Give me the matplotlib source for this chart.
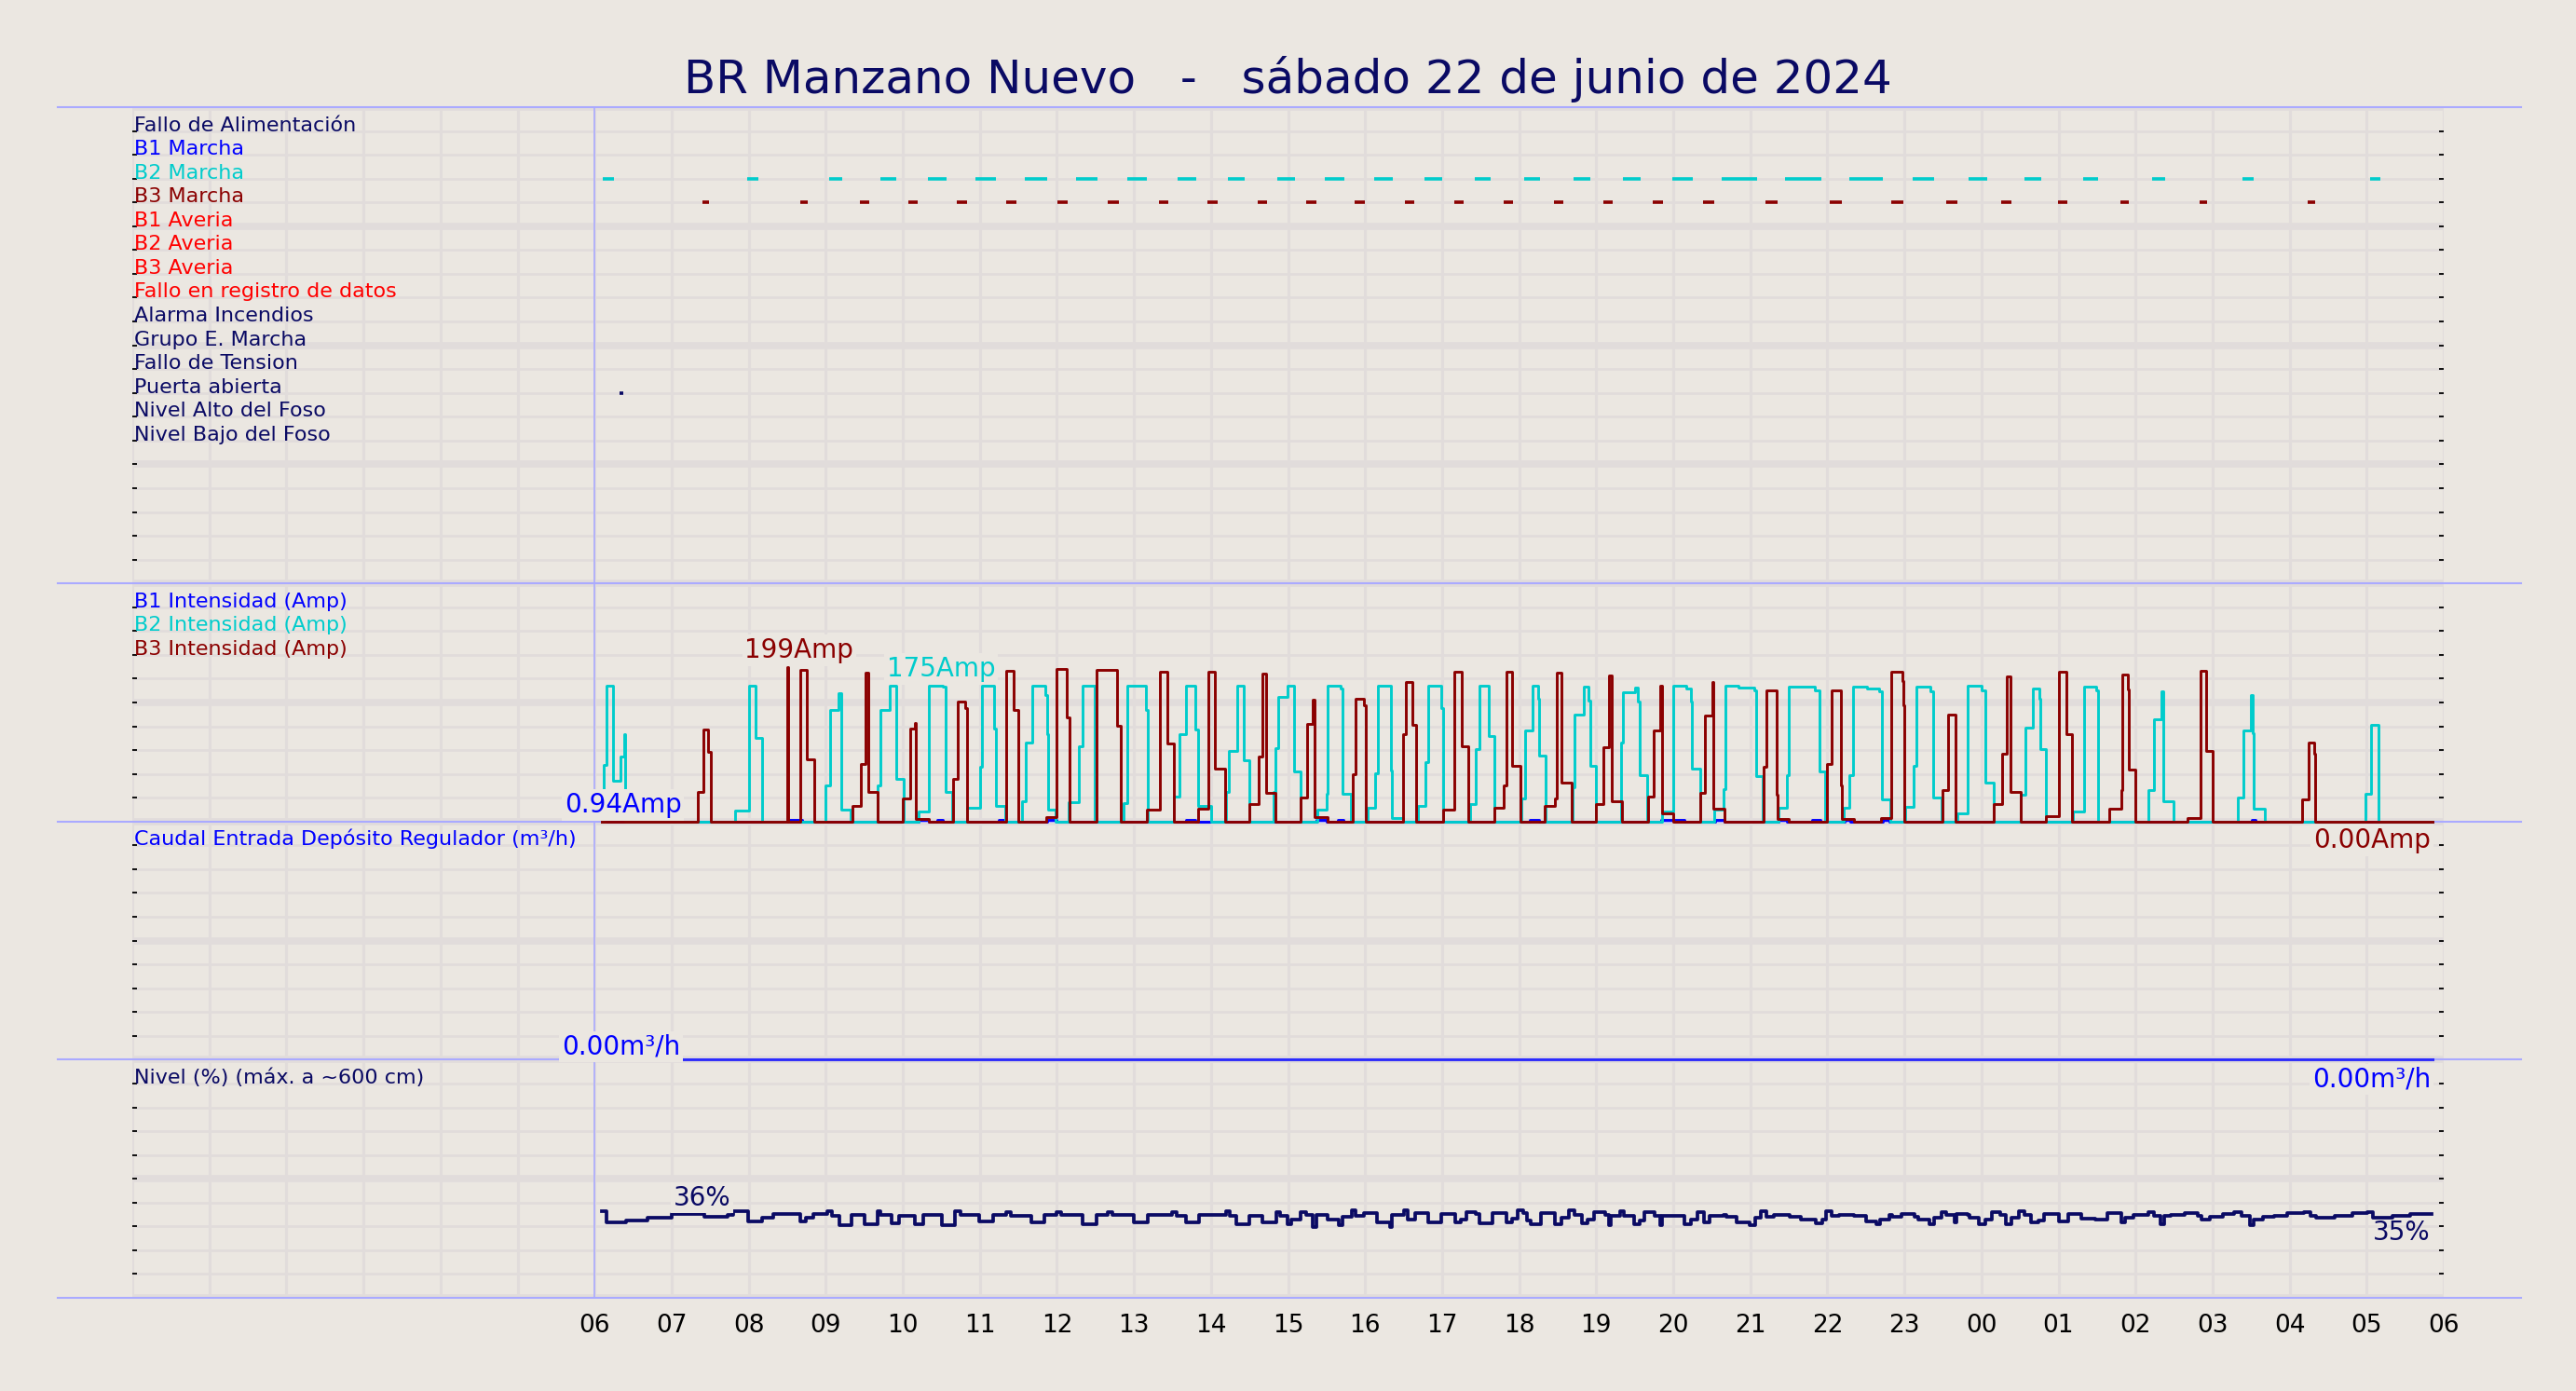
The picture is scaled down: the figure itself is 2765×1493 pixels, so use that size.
import matplotlib
matplotlib.use("Agg")
import matplotlib.pyplot as plt
from matplotlib.transforms import blended_transform_factory

BG = '#ebe7e1'
GRID = '#e1dcdb'
NAVY = '#0a0a64'
BLUE = '#0000ff'
CYAN = '#00cccc'
DARKRED = '#8b0000'
RED = '#ff0000'
EDGE = '#aaaaff'

title = 'BR Manzano Nuevo   -   sábado 22 de junio de 2024'

# digital signals, one row each (top to bottom)
signal_labels = ['Fallo de Alimentación', 'B1 Marcha', 'B2 Marcha', 'B3 Marcha',
                 'B1 Averia', 'B2 Averia', 'B3 Averia', 'Fallo en registro de datos',
                 'Alarma Incendios', 'Grupo E. Marcha', 'Fallo de Tension',
                 'Puerta abierta', 'Nivel Alto del Foso', 'Nivel Bajo del Foso']
signal_colors = [NAVY, BLUE, CYAN, DARKRED, RED, RED, RED, RED,
                 NAVY, NAVY, NAVY, NAVY, NAVY, NAVY]

# time in hours from 00:00 of the day (24+ = next day)
b2_on = [6.106, 7.98, 9.04, 9.71, 10.33, 10.94, 11.58, 12.25, 12.91, 13.57, 14.22,
         14.86, 15.48, 16.12, 16.77, 17.42, 18.07, 18.71, 19.35, 19.99, 20.63, 21.45,
         22.29, 23.11, 23.83, 24.56, 25.32, 26.22, 27.39, 29.04]
b2_off = [6.25, 8.13, 9.21, 9.92, 10.57, 11.21, 11.87, 12.53, 13.17, 13.81, 14.44,
          15.09, 15.73, 16.36, 17.0, 17.63, 18.27, 18.92, 19.58, 20.25, 21.09, 21.92,
          22.72, 23.39, 24.08, 24.78, 25.51, 26.38, 27.53, 29.18]
b3_on = [7.40, 8.67, 9.44, 10.07, 10.70, 11.34, 12.01, 12.66, 13.33, 13.95, 14.61,
         15.24, 15.86, 16.52, 17.16, 17.80, 18.45, 19.09, 19.73, 20.39, 21.20, 22.03,
         22.83, 23.54, 24.26, 24.99, 25.80, 26.83, 28.23]
b3_off = [7.48, 8.77, 9.56, 10.19, 10.83, 11.48, 12.14, 12.81, 13.45, 14.09, 14.73,
          15.37, 16.0, 16.64, 17.28, 17.92, 18.57, 19.21, 19.87, 20.53, 21.35, 22.19,
          22.99, 23.69, 24.39, 25.12, 25.91, 26.93, 28.33]
puerta_on = [6.32]
puerta_off = [6.37]

# pump currents (Amp)
b1_t = [6.10, 6.15, 8.53, 8.69, 10.21, 10.34, 10.45, 10.52, 11.25, 11.33, 11.87, 12.0,
        13.67, 13.80, 15.37, 15.50, 15.65, 15.72, 18.14, 18.26, 19.84, 20.15, 20.55,
        20.66, 21.37, 21.47, 21.80, 21.91, 22.22, 22.30, 22.72, 22.81, 27.51, 27.56, 29.85]
b1_a = [0.94, 0, 2, 0, 2, 0, 2, 0, 2, 0, 2, 0,
        2, 0, 2, 0, 2, 0, 2, 0, 2, 0, 2,
        0, 2, 0, 2, 0, 2, 0, 2, 0, 2, 0, 0]

b2_t = [6.10, 6.12, 6.16, 6.24, 6.34, 6.38, 6.40,
        7.825, 8.01, 8.087, 8.177,
        9.00, 9.06, 9.16, 9.20, 9.325,
        9.671, 9.713, 9.828, 9.912, 10.007,
        10.21, 10.342, 10.515, 10.552, 10.646,
        10.84, 11.0, 11.024, 11.181, 11.207, 11.328,
        11.548, 11.601, 11.68, 11.847, 11.873, 11.89, 11.984,
        12.15, 12.282, 12.335, 12.49,
        12.87, 12.92, 13.15, 13.18,
        13.515, 13.593, 13.672, 13.793, 13.83, 14.0,
        14.20, 14.238, 14.343, 14.422, 14.50,
        14.815, 14.841, 14.867, 14.998, 15.077, 15.166,
        15.376, 15.497, 15.512, 15.68, 15.706, 15.811,
        16.037, 16.126, 16.163, 16.336, 16.351, 16.493,
        16.687, 16.781, 16.823, 16.991, 17.017,
        17.358, 17.437, 17.489, 17.61, 17.673,
        18.03, 18.082, 18.171, 18.25, 18.26, 18.344,
        18.695, 18.722, 18.837, 18.905, 18.921, 18.994,
        19.325, 19.351, 19.508, 19.54, 19.56, 19.665,
        19.849, 19.996, 20.164, 20.232, 20.242, 20.347,
        20.531, 20.652, 20.673, 20.845, 21.055, 21.081, 21.16,
        21.37, 21.475, 21.501, 21.842, 21.894, 21.973,
        22.21, 22.288, 22.33, 22.513, 22.671, 22.707, 22.812,
        23.012, 23.117, 23.158, 23.337, 23.368, 23.484,
        23.683, 23.824, 24.008, 24.05, 24.165,
        24.506, 24.574, 24.663, 24.758, 24.768, 24.836,
        25.188, 25.33, 25.487, 25.508,
        26.168, 26.236, 26.341, 26.357, 26.499,
        27.322, 27.406, 27.495, 27.521, 27.532, 27.679,
        28.99, 29.053, 29.158, 29.85]
b2_a = [0, 73, 175, 53, 84, 112, 0,
        14, 175, 108, 0,
        46, 144, 165, 15, 0,
        46, 144, 175, 55, 0,
        13, 175, 173, 38, 0,
        18, 70, 175, 120, 20, 0,
        26, 102, 175, 162, 112, 15, 0,
        25, 97, 174, 0,
        24, 174, 144, 0,
        32, 112, 174, 118, 20, 0,
        38, 91, 174, 79, 0,
        38, 94, 160, 174, 65, 0,
        15, 36, 174, 171, 36, 0,
        18, 62, 174, 66, 5, 0,
        20, 76, 174, 146, 0,
        23, 93, 174, 110, 0,
        30, 117, 174, 158, 85, 0,
        44, 138, 173, 155, 72, 0,
        102, 166, 172, 154, 60, 0,
        13, 174, 171, 154, 68, 0,
        15, 42, 174, 172, 169, 59, 0,
        18, 60, 173, 169, 65, 0,
        18, 60, 173, 171, 167, 29, 0,
        19, 72, 173, 167, 31, 0,
        10, 174, 169, 50, 0,
        34, 121, 171, 158, 93, 0,
        13, 173, 168, 0,
        40, 132, 167, 26, 0,
        31, 117, 163, 113, 17, 0,
        36, 124, 0, 0]

b3_t = [6.10,
        7.343, 7.416, 7.469, 7.51,
        8.496, 8.517, 8.675, 8.759, 8.848,
        9.346, 9.461, 9.514, 9.55, 9.671,
        10.0, 10.091, 10.159, 10.175, 10.342,
        10.657, 10.709, 10.814, 10.84,
        11.339, 11.444, 11.496,
        11.863, 11.994, 12.125, 12.167,
        12.519, 12.781, 12.833,
        13.174, 13.342, 13.436, 13.515,
        13.83, 13.971, 14.054, 14.186,
        14.50, 14.621, 14.673, 14.71, 14.841,
        15.166, 15.25, 15.323, 15.344, 15.512,
        15.837, 15.879, 15.984, 16.005,
        16.493, 16.535, 16.614, 16.666,
        17.017, 17.164, 17.253, 17.342,
        17.673, 17.804, 17.83, 17.909, 18.014,
        18.328, 18.46, 18.491, 18.554, 18.68,
        18.994, 19.089, 19.167, 19.204, 19.34,
        19.668, 19.746, 19.835, 19.856, 20.006,
        20.347, 20.41, 20.504, 20.525, 20.662,
        21.176, 21.213, 21.339, 21.354, 21.501,
        22.0, 22.052, 22.172, 22.193, 22.34,
        22.697, 22.828, 22.97, 22.985, 23.001,
        23.494, 23.562, 23.667,
        24.165, 24.27, 24.333, 24.375, 24.506,
        24.836, 25.004, 25.099, 25.172,
        25.66, 25.817, 25.833, 25.896, 25.912, 26.0,
        26.672, 26.84, 26.918, 27.007,
        28.161, 28.245, 28.318, 28.334,
        29.85]
b3_a = [0,
        38, 118, 90, 0,
        199, 0, 195, 80, 0,
        20, 74, 191, 38, 0,
        30, 120, 127, 3, 0,
        55, 154, 146, 0,
        194, 144, 0,
        6, 196, 134, 0,
        195, 123, 0,
        15, 193, 100, 0,
        17, 193, 68, 0,
        23, 83, 190, 37, 0,
        31, 126, 156, 6, 0,
        61, 158, 150, 0,
        112, 179, 124, 0,
        15, 193, 97, 0,
        18, 46, 193, 72, 0,
        20, 30, 191, 50, 0,
        23, 95, 188, 26, 0,
        32, 117, 175, 11, 0,
        37, 136, 179, 17, 0,
        70, 169, 34, 3, 0,
        74, 169, 46, 3, 0,
        5, 193, 181, 150, 0,
        40, 137, 0,
        23, 87, 186, 38, 0,
        7, 193, 112, 0,
        17, 40, 189, 170, 67, 0,
        5, 194, 91, 0,
        29, 102, 87, 0,
        0]

# inflow (m3/h)
caudal_t = [6.10, 29.85]
caudal_v = [0.0, 0.0]

# tank level (%)
nivel_t = [6.10, 6.15, 6.41, 6.69, 7.00, 7.42, 7.73, 7.80, 7.995, 8.18, 8.32, 8.67,
           8.74, 8.84, 9.02, 9.08, 9.175, 9.33, 9.50, 9.67, 9.71, 9.85, 9.95, 10.16,
           10.27, 10.51, 10.68, 10.75, 10.99, 11.17, 11.34, 11.40, 11.67, 11.84, 12.00,
           12.05, 12.33, 12.51, 12.66, 12.72, 13.00, 13.18, 13.49, 13.55, 13.67, 13.84,
           14.19, 14.24, 14.33, 14.50, 14.67, 14.85, 14.90, 14.995, 15.04, 15.16, 15.24,
           15.315, 15.365, 15.51, 15.66, 15.71, 15.83, 15.88, 15.98, 16.15, 16.33, 16.35,
           16.50, 16.55, 16.65, 16.82, 16.99, 17.17, 17.24, 17.31, 17.44, 17.49, 17.66,
           17.83, 17.91, 17.98, 18.05, 18.10, 18.15, 18.28, 18.47, 18.55, 18.65, 18.72,
           18.82, 18.89, 18.97, 19.12, 19.16, 19.19, 19.31, 19.36, 19.49, 19.56, 19.63,
           19.76, 19.83, 19.86, 20.15, 20.23, 20.32, 20.40, 20.47, 20.65, 20.69, 20.82,
           20.99, 21.06, 21.14, 21.21, 21.31, 21.51, 21.66, 21.85, 21.93, 21.98, 22.05,
           22.15, 22.35, 22.50, 22.64, 22.69, 22.81, 22.84, 22.96, 23.13, 23.18, 23.33,
           23.38, 23.48, 23.54, 23.65, 23.68, 23.82, 23.85, 23.97, 24.05, 24.14, 24.24,
           24.32, 24.39, 24.49, 24.56, 24.64, 24.74, 24.81, 25.01, 25.13, 25.30, 25.48,
           25.63, 25.82, 25.87, 25.97, 26.17, 26.24, 26.32, 26.37, 26.46, 26.64, 26.81,
           26.86, 26.96, 27.13, 27.28, 27.38, 27.48, 27.53, 27.65, 27.80, 27.97, 28.19,
           28.27, 28.34, 28.59, 28.81, 29.01, 29.08, 29.33, 29.57, 29.84]
nivel_v = [36.3, 31.8, 32.4, 33.5, 35.3, 34.0, 34.8, 36.3, 32.2, 33.5, 35.3, 32.0,
           33.7, 35.3, 36.3, 34.4, 30.7, 35.0, 31.1, 36.3, 35.0, 31.3, 34.6, 31.1,
           35.0, 30.7, 36.3, 35.0, 32.0, 35.0, 36.0, 34.6, 31.5, 35.0, 36.1,
           35.0, 31.1, 35.0, 36.1, 34.8, 31.8, 35.0, 36.1, 34.4, 31.5, 35.0,
           36.3, 34.6, 31.1, 34.6, 31.5, 36.1, 34.6, 31.1, 33.0, 36.1, 35.0,
           29.8, 35.0, 33.0, 30.5, 33.9, 36.6, 34.3, 35.7, 31.7, 29.8, 35.0,
           36.6, 33.0, 35.7, 31.7, 35.4, 31.7, 33.0, 36.1, 35.4, 31.4, 35.7,
           31.7, 33.3, 36.6, 35.7, 32.4, 31.1, 35.7, 31.1, 33.7, 36.6, 35.0,
           31.4, 33.0, 36.1, 35.0, 30.5, 34.3, 36.3, 34.3, 31.1, 32.4, 36.1,
           34.6, 30.5, 34.6, 31.1, 33.0, 36.1, 31.7, 34.6, 35.0, 33.9, 31.7,
           30.5, 33.7, 36.3, 33.9, 35.0, 33.9, 32.7, 31.4, 33.0, 36.3, 34.6,
           35.0, 34.3, 32.0, 31.1, 33.0, 35.0, 33.9, 35.4, 33.9, 33.0, 31.1,
           33.7, 36.1, 35.0, 31.7, 35.4, 35.0, 33.7, 31.1, 33.0, 36.1, 35.0,
           31.1, 33.7, 36.3, 35.0, 31.7, 32.4, 35.4, 32.0, 35.4, 33.3, 33.0,
           35.7, 31.7, 33.7, 35.0, 36.1, 34.6, 31.1, 34.3, 35.0, 35.7, 34.6,
           33.0, 33.9, 35.4, 36.1, 34.6, 30.7, 33.0, 33.9, 34.6, 35.7, 36.1,
           34.6, 33.7, 34.6, 35.7, 36.1, 33.7, 34.6, 35.3, 35.3]

hour_ticks = list(range(6, 31))
hour_labels = ['06', '07', '08', '09', '10', '11', '12', '13', '14', '15', '16', '17',
               '18', '19', '20', '21', '22', '23', '00', '01', '02', '03', '04', '05', '06']

# vertical layout of the single axes (units): nivel 0-10, caudal 10-20,
# intensidad 20-30, senales 30-50
AMP_PER_UNIT = 30.6
PCT_PER_UNIT = 10.0


def amp_y(vals):
    return [20 + v / AMP_PER_UNIT for v in vals]


fig = plt.figure(figsize=(27.65, 14.93), dpi=100, facecolor=BG)
ax = fig.add_axes([142 / 2765, 1 - 1393 / 1493, (2623 - 142) / 2765, (1393 - 115) / 1493])
ax.set_facecolor(BG)
ax.set_xlim(0, 30)
ax.set_ylim(0, 50)
for s in ax.spines.values():
    s.set_visible(False)
ax.set_axisbelow(True)

ax.set_xticks(hour_ticks)
ax.set_xticklabels(hour_labels, fontsize=19, color='black')
ax.set_xticks(range(0, hour_ticks[0]), minor=True)
ax.tick_params(axis='x', which='both', length=0, pad=12)
ax.set_yticks(range(0, 51, 5))
ax.set_yticks(range(0, 51), minor=True)
ax.tick_params(axis='y', which='both', direction='in', left=True, right=True,
               length=3.5, width=1.3, color='black', labelleft=False, labelright=False)
ax.grid(axis='x', which='both', color=GRID, lw=2.2)
ax.grid(axis='y', which='minor', color=GRID, lw=2.0)
ax.grid(axis='y', which='major', color=GRID, lw=5.5)

# panel separators
tr = blended_transform_factory(fig.transFigure, ax.transData)
for y in [0, 10, 20, 30, 50]:
    ax.plot([0.0224, 0.9787], [y, y], transform=tr, color=EDGE, lw=1.5,
            clip_on=False, zorder=1.5)
ax.axvline(hour_ticks[0], color=EDGE, lw=1.2, zorder=1.5)

# digital signal labels and traces
n_rows = len(signal_labels)
for i in range(n_rows):
    ax.text(0.03, 49 - i, signal_labels[i], color=signal_colors[i], fontsize=16,
            ha='left', va='baseline', zorder=4)
ax.hlines([47] * len(b2_on), b2_on, b2_off, color=CYAN, lw=2.6, zorder=3)
ax.hlines([46] * len(b3_on), b3_on, b3_off, color=DARKRED, lw=2.6, zorder=3)
ax.hlines([38] * len(puerta_on), puerta_on, puerta_off, color=NAVY, lw=2.6, zorder=3)

# intensities
ax.text(0.03, 29, 'B1 Intensidad (Amp)', color=BLUE, fontsize=16, va='baseline')
ax.text(0.03, 28, 'B2 Intensidad (Amp)', color=CYAN, fontsize=16, va='baseline')
ax.text(0.03, 27, 'B3 Intensidad (Amp)', color=DARKRED, fontsize=16, va='baseline')
ax.step(b1_t, amp_y(b1_a), where='post', color=BLUE, lw=2.1, zorder=3)
ax.step(b2_t, amp_y(b2_a), where='post', color=CYAN, lw=2.1, zorder=3)
ax.step(b3_t, amp_y(b3_a), where='post', color=DARKRED, lw=2.1, zorder=3)

box = dict(facecolor=BG, edgecolor='none', pad=2)
ax.text(7.13, 20.15, '%.2fAmp' % b1_a[0], color=BLUE, fontsize=20, ha='right',
        va='bottom', bbox=box, zorder=5)
ax.text(b3_t[-1] - 0.02, 19.2, '%.2fAmp' % b3_a[-1], color=DARKRED, fontsize=20,
        ha='right', va='center', bbox=box, zorder=5)
i3 = b3_a.index(max(b3_a))
ax.text(b3_t[i3] + 0.16, 27.2, '%dAmp' % max(b3_a), color=DARKRED, fontsize=20,
        ha='center', va='center', bbox=box, zorder=5)
ax.text(10.5, 26.4, '%dAmp' % max(b2_a), color=CYAN, fontsize=20,
        ha='center', va='center', bbox=box, zorder=5)

# caudal
ax.text(0.03, 19, 'Caudal Entrada Depósito Regulador (m³/h)', color=BLUE,
        fontsize=16, va='baseline')
ax.step(caudal_t, [10 + v for v in caudal_v], where='post', color=BLUE, lw=2.2,
        alpha=0.75, zorder=3)
ax.text(7.11, 10.55, '%.2fm³/h' % caudal_v[0], color=BLUE, fontsize=20, ha='right',
        va='center', bbox=box, zorder=5)
ax.text(caudal_t[-1] - 0.02, 9.18, '%.2fm³/h' % caudal_v[-1], color=BLUE, fontsize=20,
        ha='right', va='center', bbox=box, zorder=5)

# nivel
ax.text(0.03, 9, 'Nivel (%) (máx. a ~600 cm)', color=NAVY, fontsize=16, va='baseline')
ax.step(nivel_t, [v / PCT_PER_UNIT for v in nivel_v], where='post', color=NAVY,
        lw=2.7, zorder=3)
ax.text(7.02, 4.2, '%d%%' % round(nivel_v[0]), color=NAVY, fontsize=20, ha='left',
        va='center', bbox=box, zorder=5)
ax.text(nivel_t[-1] - 0.01, 2.72, '%d%%' % round(nivel_v[-1]), color=NAVY, fontsize=20,
        ha='right', va='center', zorder=2)

fig.text(0.5, 1 - 100 / 1493, title, ha='center', va='baseline', fontsize=36, color=NAVY)

fig.savefig('out.png', dpi=100, facecolor=BG)
